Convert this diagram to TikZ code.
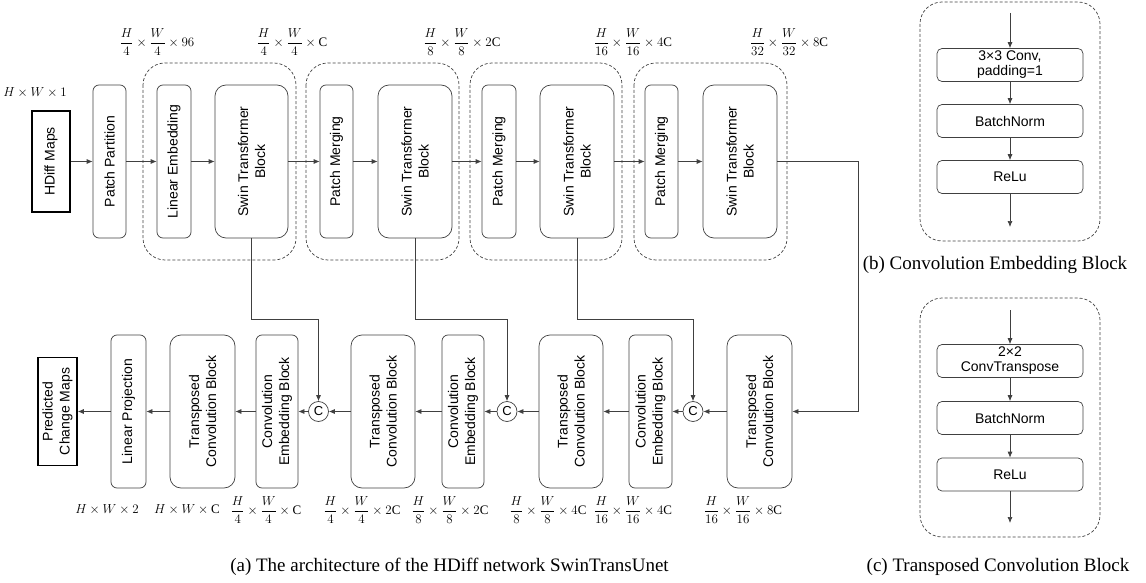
\documentclass[tikz,border=0pt]{standalone}
\usepackage{fix-cm}
\usepackage{fontspec}
\setmainfont{Liberation Serif}
\newfontfamily\arial{Liberation Sans}
\usetikzlibrary{arrows.meta}
\begin{document}
\begin{tikzpicture}[x=1pt,y=-1pt,
  ln/.style={draw=black!75, line width=0.7pt},
  arr/.style={ln, -{Latex[length=6pt,width=5pt]}},
  vb/.style={ln, rotate=90, inner sep=0pt, align=center, minimum width=153pt,
     font=\arial\fontsize{14}{17}\selectfont},
  nb/.style={vb, rounded corners=6pt},
  wb/.style={vb, rounded corners=11pt},
  io/.style={draw=black, line width=1.6pt, rotate=90, inner sep=0pt, align=center,
     font=\arial\fontsize{14}{17}\selectfont},
  grp/.style={draw=black!75, line width=0.7pt, dash pattern=on 3pt off 2pt, rounded corners=22pt},
  hb/.style={ln, rounded corners=5pt, inner sep=0pt, align=center,
     font=\arial\fontsize{14}{15}\selectfont, minimum width=146pt, minimum height=33pt},
  dim/.style={font=\fontsize{13}{15}\selectfont, inner sep=0pt},
  captxt/.style={font=\fontsize{19}{22}\selectfont, inner sep=0pt},
  cc/.style={ln, circle, minimum size=20pt, inner sep=0pt, font=\arial\fontsize{13}{14}\selectfont}
]
\useasboundingbox (0,0) rectangle (1146,583);

% ---------- dashed groups ----------
\draw[grp] (143,63) rectangle (296,260);
\draw[grp] (306,63) rectangle (459,260);
\draw[grp] (470,63) rectangle (622,260);
\draw[grp] (634,63) rectangle (787,260);

% ---------- top row ----------
\node[io, minimum width=101pt, minimum height=38pt] (hd) at (51,161.5) {HDiff Maps};
\node[nb, minimum height=33pt] (pp) at (109.5,161.5) {Patch Partition};
\node[nb, minimum height=34pt] (le) at (174,161.5) {Linear Embedding};
\node[wb, minimum height=73pt] (s1) at (251.5,161.5) {Swin Transformer\\Block};
\node[nb, minimum height=33pt] (pm1) at (336.5,161.5) {Patch Merging};
\node[wb, minimum height=74pt] (s2) at (415,161.5) {Swin Transformer\\Block};
\node[nb, minimum height=34pt] (pm2) at (499,161.5) {Patch Merging};
\node[wb, minimum height=74pt] (s3) at (577,161.5) {Swin Transformer\\Block};
\node[nb, minimum height=33pt] (pm3) at (661.5,161.5) {Patch Merging};
\node[wb, minimum height=74pt] (s4) at (740,161.5) {Swin Transformer\\Block};

\draw[arr] (hd) -- (pp);
\draw[arr] (pp) -- (le);
\draw[arr] (le) -- (s1);
\draw[arr] (s1) -- (pm1);
\draw[arr] (pm1) -- (s2);
\draw[arr] (s2) -- (pm2);
\draw[arr] (pm2) -- (s3);
\draw[arr] (s3) -- (pm3);
\draw[arr] (pm3) -- (s4);

% ---------- bottom row ----------
\node[io, minimum width=108pt, minimum height=39pt] (pc) at (57.5,411.5) {Predicted\\Change Maps};
\node[nb, minimum height=35pt] (lp) at (128.5,411.5) {Linear Projection};
\node[wb, minimum height=65pt] (t1) at (202.5,411.5) {Transposed\\Convolution Block};
\node[nb, minimum height=42pt] (e1) at (277,411.5) {Convolution\\Embedding Block};
\node[cc] (c1) at (318.5,411.5) {C};
\node[wb, minimum height=64pt] (t2) at (383,411.5) {Transposed\\Convolution Block};
\node[nb, minimum height=42pt] (e2) at (463,411.5) {Convolution\\Embedding Block};
\node[cc] (c2) at (507,411.5) {C};
\node[wb, minimum height=64pt] (t3) at (571,411.5) {Transposed\\Convolution Block};
\node[nb, minimum height=43pt] (e3) at (650.5,411.5) {Convolution\\Embedding Block};
\node[cc] (c3) at (693,411.5) {C};
\node[wb, minimum height=65pt] (t4) at (759.5,411.5) {Transposed\\Convolution Block};

\draw[arr] (t4) -- (c3);
\draw[arr] (c3) -- (e3);
\draw[arr] (e3) -- (t3);
\draw[arr] (t3) -- (c2);
\draw[arr] (c2) -- (e2);
\draw[arr] (e2) -- (t2);
\draw[arr] (t2) -- (c1);
\draw[arr] (c1) -- (e1);
\draw[arr] (e1) -- (t1);
\draw[arr] (t1) -- (lp);
\draw[arr] (lp) -- (pc);

% ---------- skip connections ----------
\coordinate (j1) at (251.5,319);
\coordinate (j2) at (415,319);
\coordinate (j3) at (577,319);
\draw[arr] (s1) -- (j1) -| (c1);
\draw[arr] (s2) -- (j2) -| (c2);
\draw[arr] (s3) -- (j3) -| (c3);
\coordinate (k) at (858,161.5);
\draw[arr] (s4) -- (k) |- (t4);

% ---------- dimension labels ----------
\node[dim] (d0) at (35,93) {$H\times W\times 1$};
\node[dim] (d1) at (157,42) {$\displaystyle\frac{H}{4}\times\frac{W}{4}\times 96$};
\node[dim] (d2) at (292,42) {$\displaystyle\frac{H}{4}\times\frac{W}{4}\times \mathrm{C}$};
\node[dim] (d3) at (462,42) {$\displaystyle\frac{H}{8}\times\frac{W}{8}\times 2\mathrm{C}$};
\node[dim] (d4) at (633,42) {$\displaystyle\frac{H}{16}\times\frac{W}{16}\times 4\mathrm{C}$};
\node[dim] (d5) at (789,42) {$\displaystyle\frac{H}{32}\times\frac{W}{32}\times 8\mathrm{C}$};

\node[dim] (u1) at (107,510) {$H\times W\times 2$};
\node[dim] (u2) at (187,510) {$H\times W\times \mathrm{C}$};
\node[dim] (u3) at (266,510) {$\displaystyle\frac{H}{4}\times\frac{W}{4}\times \mathrm{C}$};
\node[dim] (u4) at (362,510) {$\displaystyle\frac{H}{4}\times\frac{W}{4}\times 2\mathrm{C}$};
\node[dim] (u5) at (450,510) {$\displaystyle\frac{H}{8}\times\frac{W}{8}\times 2\mathrm{C}$};
\node[dim] (u6) at (548,510) {$\displaystyle\frac{H}{8}\times\frac{W}{8}\times 4\mathrm{C}$};
\node[dim] (u7) at (633,510) {$\displaystyle\frac{H}{16}\times\frac{W}{16}\times 4\mathrm{C}$};
\node[dim] (u8) at (743,510) {$\displaystyle\frac{H}{16}\times\frac{W}{16}\times 8\mathrm{C}$};

% ---------- panel (b) ----------
\draw[grp] (920,2) rectangle (1100,241);
\node[hb] (b1) at (1010,65) {3×3 Conv,\\padding=1};
\node[hb] (b2) at (1010,121) {BatchNorm};
\node[hb] (b3) at (1010,177) {ReLu};
\coordinate (bin) at (1010,13);
\coordinate (bout) at (1010,227);
\draw[arr] (bin) -- (b1);
\draw[arr] (b1) -- (b2);
\draw[arr] (b2) -- (b3);
\draw[arr] (b3) -- (bout);

% ---------- panel (c) ----------
\draw[grp] (920,298) rectangle (1100,537);
\node[hb] (q1) at (1010,361) {2×2\\ConvTranspose};
\node[hb] (q2) at (1010,418) {BatchNorm};
\node[hb] (q3) at (1010,474.5) {ReLu};
\coordinate (qin) at (1010,310);
\coordinate (qout) at (1010,523);
\draw[arr] (qin) -- (q1);
\draw[arr] (q1) -- (q2);
\draw[arr] (q2) -- (q3);
\draw[arr] (q3) -- (qout);

% ---------- captions ----------
\node[captxt] (capa) at (449.5,567) {(a) The architecture of the HDiff network SwinTransUnet};
\node[captxt] (capb) at (995,265) {(b) Convolution Embedding Block};
\node[captxt] (capc) at (998,567) {(c) Transposed Convolution Block};
\end{tikzpicture}
\end{document}
